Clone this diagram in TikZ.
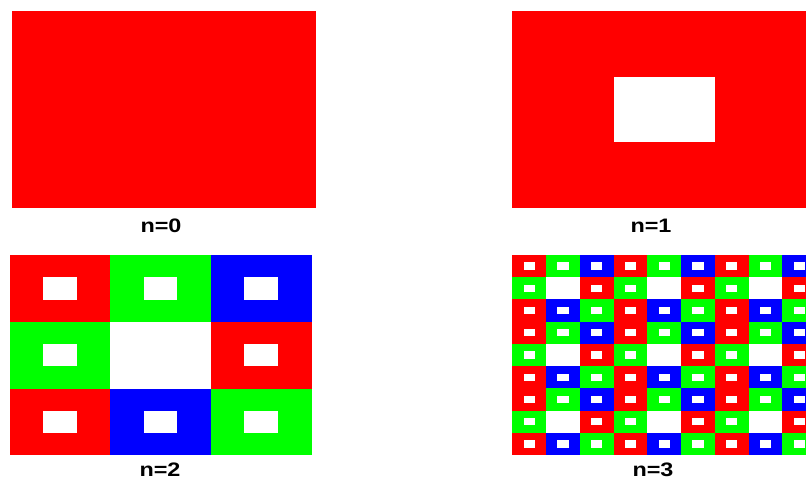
\documentclass[tikz,border=0pt]{standalone}
\usepackage{fontspec}
\setmainfont{Liberation Sans}
\usepackage{tikz}
\usetikzlibrary{positioning}

\begin{document}
\begin{tikzpicture}[x=1pt, y=-1pt,
    lbl/.style={font=\fontsize{19.5}{20}\selectfont\bfseries, inner sep=0pt}]
  \useasboundingbox (0,0) rectangle (806,481);
  \clip (0,0) rectangle (806,481);

  % n=0: plain red block
  \fill[red] (12,11) rectangle (315.5,208);
  \node[lbl] (lab0) at (161,226) {\scalebox{1.2}[1]{n=0}};

  % n=1: red block with the centre third cut out
  \fill[red] (512.3,11) rectangle (816,208);
  \fill[white] (613.5,76.7) rectangle (714.8,142.3);
  \node[lbl] (lab1) at (651,226) {\scalebox{1.2}[1]{n=1}};

  % n=2: 3x3 coloured cells, each with a hole
  \foreach \r/\list in {0/{red,green,blue}, 1/{green,white,red}, 2/{red,blue,green}}
    \foreach \c [count=\i from 0] in \list {
      \fill[\c] ({9.5+\i*100.7}, {255+\r*66.8}) rectangle ++(100.7,66.8);
      \fill[white] ({9.5+\i*100.7+33.57}, {255+\r*66.8+22.27}) rectangle ++(33.57,22.27);
    }
  \node[lbl] (lab2) at (160,470) {\scalebox{1.2}[1]{n=2}};

  % n=3: the n=2 pattern repeated 3x3, small holes in every cell
  \foreach \br in {0,1,2}
    \foreach \r/\list in {0/{red,green,blue}, 1/{green,white,red}, 2/{red,blue,green}}
      \foreach \bc in {0,1,2}
        \foreach \c [count=\i from 0] in \list {
          \fill[\c] ({512.3+(3*\bc+\i)*33.75}, {255+(3*\br+\r)*22.22}) rectangle ++(33.75,22.22);
          \fill[white] ({512.3+(3*\bc+\i)*33.75+11.25}, {255+(3*\br+\r)*22.22+7.41}) rectangle ++(11.25,7.41);
        }
  \node[lbl] (lab3) at (653,470) {\scalebox{1.2}[1]{n=3}};
\end{tikzpicture}
\end{document}
